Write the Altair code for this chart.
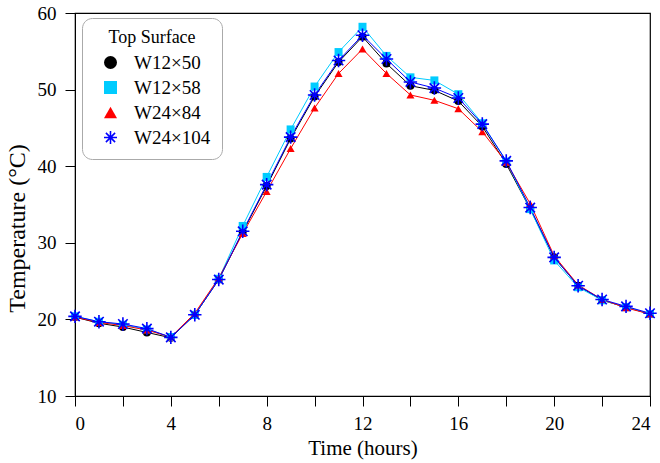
import math
import altair as alt
import pandas as pd

hours = list(range(25))
series_names = ["W12×50", "W12×58", "W24×84", "W24×104"]
w12x50 = [20.3, 19.5, 19.0, 18.3, 17.6, 20.6, 25.2, 31.4, 37.4, 43.6, 49.1, 53.6, 56.9,
          53.4, 50.5, 49.9, 48.5, 45.2, 40.3, 34.4, 28.1, 24.4, 22.5, 21.6, 20.7]
w12x58 = [20.4, 19.7, 19.3, 18.7, 17.7, 20.6, 25.3, 32.2, 38.6, 44.8, 50.4, 54.9, 58.2,
          54.4, 51.6, 51.2, 49.4, 45.6, 40.6, 34.4, 27.7, 24.2, 22.5, 21.6, 20.7]
w24x84 = [20.3, 19.6, 19.2, 18.6, 17.7, 20.8, 25.4, 31.2, 36.7, 42.3, 47.6, 52.1, 55.3,
          52.1, 49.3, 48.6, 47.5, 44.5, 40.5, 35.1, 28.3, 24.5, 22.6, 21.5, 20.7]
w24x104 = [20.4, 19.7, 19.4, 18.8, 17.65, 20.6, 25.2, 31.5, 37.6, 43.8, 49.3, 53.8, 57.1,
           54.0, 51.0, 50.2, 48.9, 45.5, 40.7, 34.6, 28.1, 24.4, 22.6, 21.7, 20.8]
colors = ["#000000", "#00CCFF", "#FF0000", "#0000FF"]

# asterisk made of four thin bars (0, 45, 90, 135 degrees)
hw = 0.12
subpaths = []
for deg in (0, 45, 90, 135):
    a = math.radians(deg)
    dx, dy = math.cos(a), math.sin(a)
    nx, ny = -dy, dx
    corners = [(dx + nx * hw, dy + ny * hw), (dx - nx * hw, dy - ny * hw),
               (-dx - nx * hw, -dy - ny * hw), (-dx + nx * hw, -dy + ny * hw)]
    subpaths.append("M" + "L".join(f"{cx:.3f},{cy:.3f}" for cx, cy in corners) + "Z")
star = "".join(subpaths)
shapes = ["circle", "square", "triangle-up", star]

rows = []
for name, vals in zip(series_names, [w12x50, w12x58, w24x84, w24x104]):
    for h, v in zip(hours, vals):
        rows.append({"hour": h, "temp": v, "series": name})
df = pd.DataFrame(rows)

font = "Liberation Serif"

x = alt.X("hour:Q", scale=alt.Scale(domain=[0, 24], nice=False),
          axis=alt.Axis(values=list(range(0, 25, 2)), title="Time (hours)",
                        labelExpr="datum.value % 4 == 0 ? datum.label : ''",
                        labelPadding=8, titlePadding=4, titleFontSize=21))
y = alt.Y("temp:Q", scale=alt.Scale(domain=[10, 60], nice=False),
          axis=alt.Axis(values=list(range(10, 61, 10)), title="Temperature (°C)",
                        labelPadding=9, titlePadding=8, titleFontSize=24, titleY=215))
leg = alt.Legend(title="Top Surface", orient="none", legendX=7, legendY=5)
color = alt.Color("series:N", scale=alt.Scale(domain=series_names, range=colors), legend=leg)
shape = alt.Shape("series:N", scale=alt.Scale(domain=series_names, range=shapes), legend=leg)

base = alt.Chart(df)
lines = base.mark_line(strokeWidth=1).encode(x=x, y=y, color=color, detail="series:N")
pts_main = base.transform_filter(alt.datum.series != series_names[3]).mark_point(
    filled=True, opacity=1, strokeWidth=0, size=64).encode(x=x, y=y, color=color, shape=shape)
pts_star = base.transform_filter(alt.datum.series == series_names[3]).mark_point(
    filled=True, opacity=1, strokeWidth=0, size=180).encode(x=x, y=y, color=color, shape=shape)

chart = alt.layer(lines, pts_main, pts_star).properties(
    width=575, height=383,
    autosize=alt.AutoSizeParams(type="none"),
    padding={"left": 75, "top": 13, "right": 10, "bottom": 67},
).configure_view(stroke="#000000", strokeWidth=1.2).configure_axis(
    grid=False, domainColor="#000000", tickColor="#000000", tickSize=10,
    labelFont=font, titleFont=font, labelFontSize=19,
    labelColor="#000000", titleColor="#000000", titleFontWeight="normal",
).configure_legend(
    labelFont=font, titleFont=font, labelFontSize=19, titleFontSize=18,
    titleFontWeight="normal", labelColor="#000000", titleColor="#000000",
    strokeColor="#aaaaaa", cornerRadius=10, padding=11, symbolSize=169,
    rowPadding=5, titleAlign="center", titleAnchor="middle", symbolOffset=8,
    labelOffset=14, titlePadding=6, fillColor="#ffffff", symbolStrokeWidth=0,
)

chart.save("out.html", embed_options={"renderer": "svg", "actions": False})
